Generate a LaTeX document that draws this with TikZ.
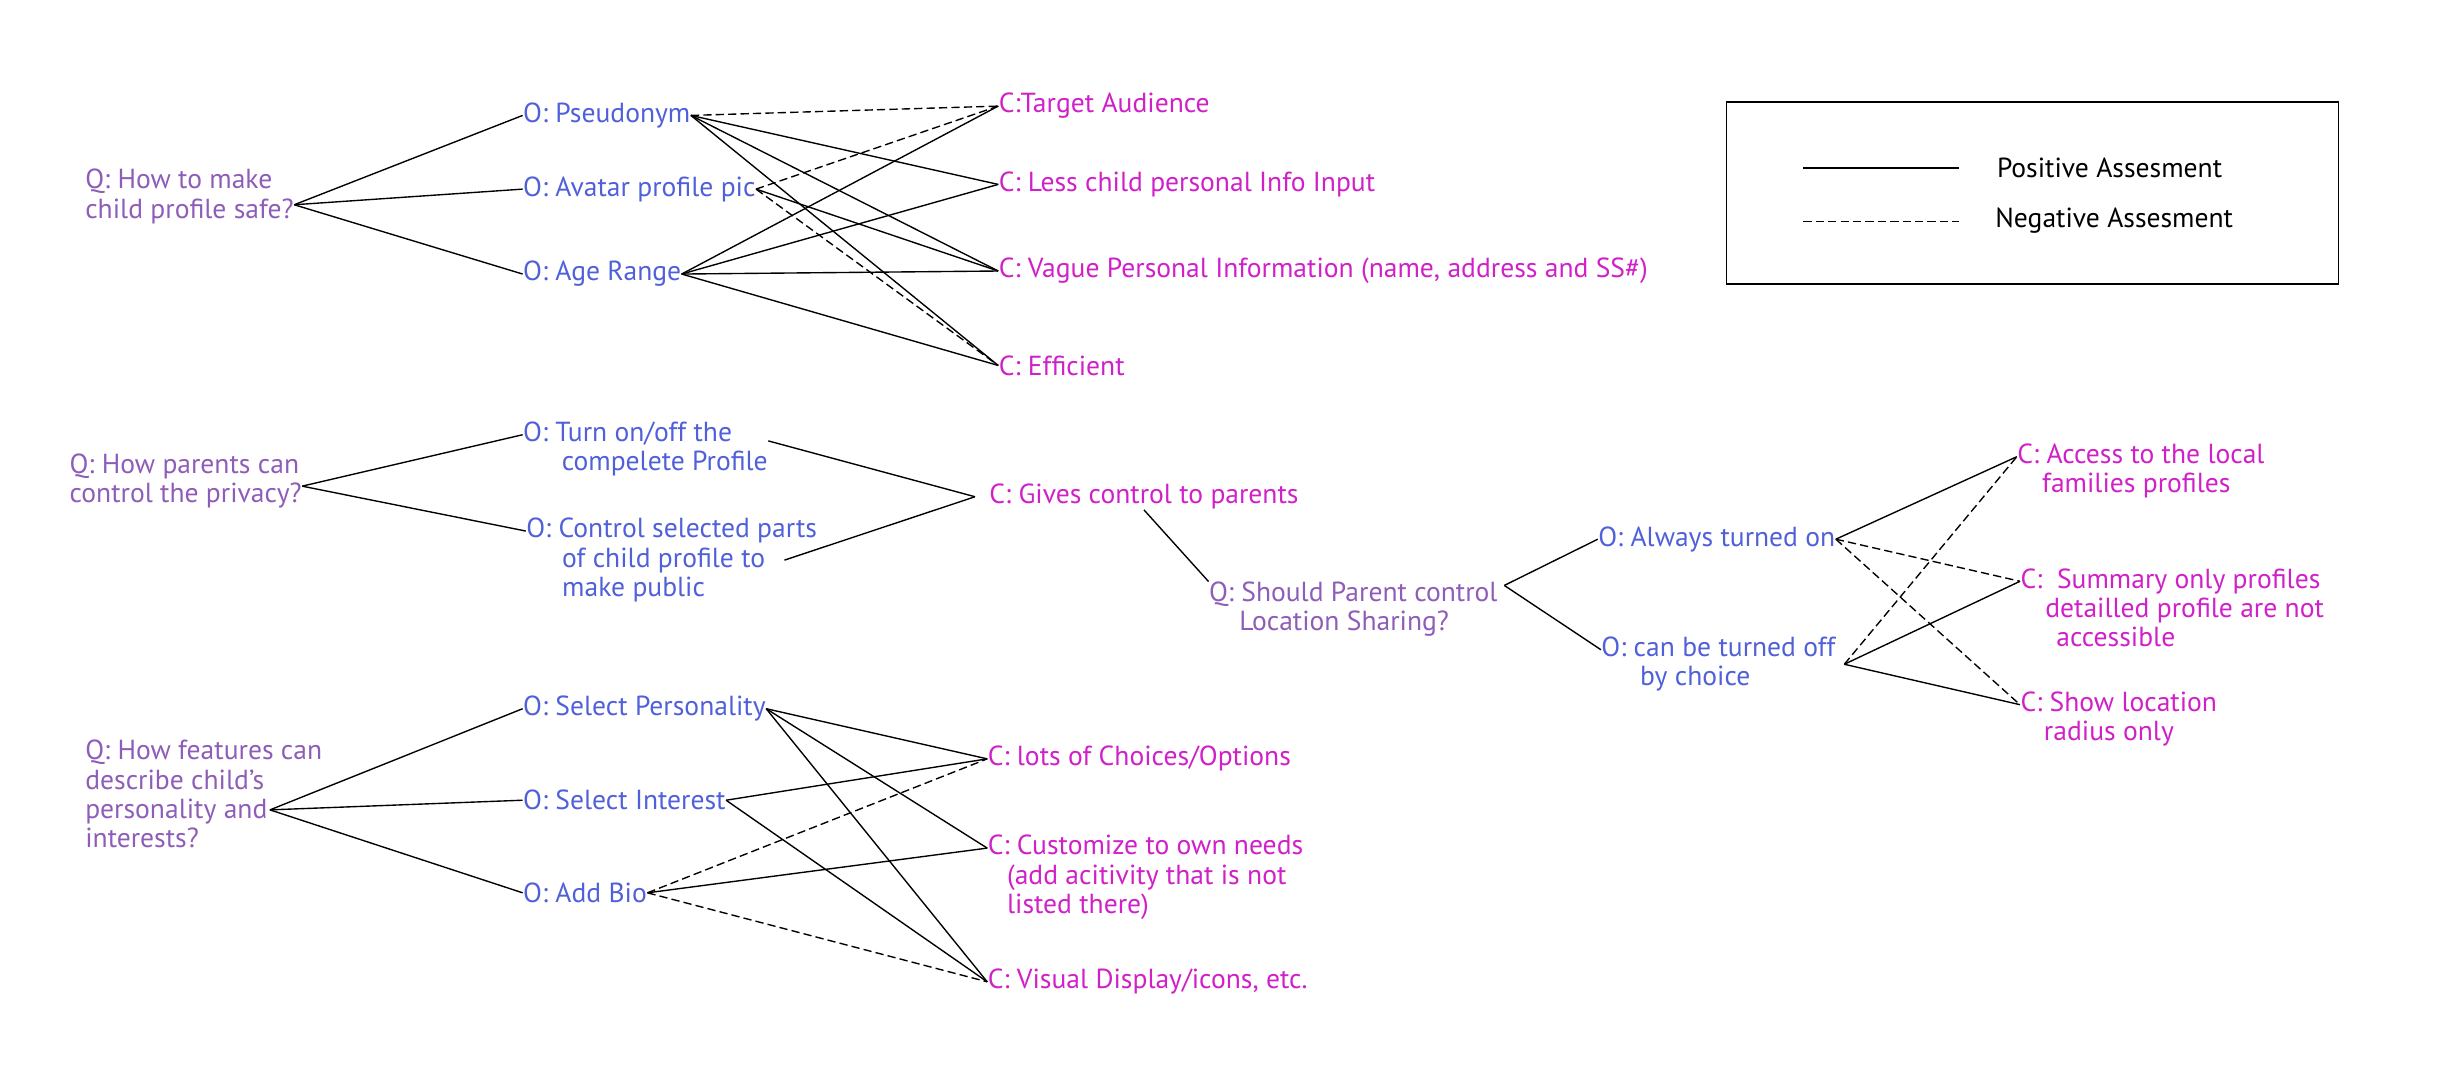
\documentclass[tikz,border=0pt]{standalone}
\usepackage{fontspec}
\setmainfont{PT Sans}

\definecolor{qcol}{HTML}{8E5DB8}
\definecolor{ocol}{HTML}{5060D8}
\definecolor{ccol}{HTML}{D020C8}

\tikzset{
    qtext/.style={anchor=base west, inner sep=0pt, align=left, text=qcol},
    otext/.style={anchor=base west, inner sep=0pt, align=left, text=ocol},
    ctext/.style={anchor=base west, inner sep=0pt, align=left, text=ccol},
    legtext/.style={anchor=base west, inner sep=0pt, text=black},
    posline/.style={draw=black, line width=0.5pt},
    negline/.style={draw=black, line width=0.5pt, dash pattern=on 3pt off 1.5pt}
}

\begin{document}
\begin{tikzpicture}[x=0.02cm, y=-0.02cm, font=\fontsize{10}{10.6}\selectfont]
\useasboundingbox (0,0) rectangle (1568,695);

% child profile
\node[qtext] (q1) at (54,139) {Q: How to make\\child profile safe?};
\node[otext] (pseudo) at (333,78) {O: Pseudonym};
\node[otext] (avatar) at (333,125) {O: Avatar profile pic};
\node[otext] (age) at (333,179) {O: Age Range};
\node[ctext] (target) at (636,72) {C:Target Audience};
\node[ctext] (less) at (636,122) {C: Less child personal Info Input};
\node[ctext] (vague) at (636,177) {C: Vague Personal Information (name, address and SS\#)};
\node[ctext] (effic) at (636,239) {C: Efficient};

\foreach \o in {pseudo,avatar,age}
    \draw[posline] ([yshift=-3pt]q1.east) -- (\o.west);
\draw[negline] (pseudo.east) -- (target.west);
\foreach \c in {less,vague,effic}
    \draw[posline] (pseudo.east) -- (\c.west);
\draw[negline] (avatar.east) -- (target.west);
\draw[posline] (avatar.east) -- (vague.west);
\draw[negline] (avatar.east) -- (effic.west);
\foreach \c in {target,less,vague,effic}
    \draw[posline] (age.east) -- (\c.west);

% privacy control
\node[qtext] (q2) at (44,320) {Q: How parents can\\control the privacy?};
\node[otext] (turn) at (333,300) {O: Turn on/off the\\\hspace*{14pt}compelete Profile};
\node[otext] (control) at (335,380) {O: Control selected parts\\\hspace*{13pt}of child profile to\\\hspace*{13pt}make public};
\node[ctext] (gives) at (630,321) {C: Gives control to parents};

\draw[posline] ([yshift=-2pt]q2.east) -- ([yshift=13.1pt]turn.base west);
\draw[posline] ([yshift=-2pt]q2.east) -- ([yshift=23.7pt]control.base west);
\draw[posline] ([yshift=3pt]turn.east) -- ([xshift=-5pt]gives.west);
\draw[posline] ([xshift=-12pt]control.east) -- ([xshift=-5pt]gives.west);

% location sharing
\node[qtext] (q3) at (770,402) {Q: Should Parent control\\\hspace*{11pt}Location Sharing?};
\node[otext] (always) at (1018,348) {O: Always turned on};
\node[otext] (canbe) at (1020,437) {O: can be turned off\\\hspace*{14pt}by choice};
\node[ctext] (access) at (1285,314) {C: Access to the local\\\hspace*{9pt}families profiles};
\node[ctext] (summary) at (1287,412) {C:\ \ Summary only profiles\\\hspace*{9pt}detailled profile are not\\\hspace*{13pt}accessible};
\node[ctext] (show) at (1287,472) {C: Show location\\\hspace*{8.5pt}radius only};

\draw[posline] (gives.south) -- (q3.north west);
\draw[posline] ([shift={(4,-29)}]q3.base east) -- (always.west);
\draw[posline] ([shift={(4,-29)}]q3.base east) -- ([yshift=13.1pt]canbe.base west);
\draw[posline] (always.east) -- ([yshift=13.1pt]access.base west);
\draw[negline] (always.east) -- ([yshift=23.7pt]summary.base west);
\draw[negline] (always.east) -- ([yshift=13.1pt]show.base west);
\draw[negline] ([xshift=3pt]canbe.east) -- ([yshift=13.1pt]access.base west);
\draw[posline] ([xshift=3pt]canbe.east) -- ([yshift=23.7pt]summary.base west);
\draw[posline] ([xshift=3pt]canbe.east) -- ([yshift=13.1pt]show.base west);

% personality and interests
\node[qtext] (q4) at (54,540) {Q: How features can\\describe child’s\\personality and\\interests?};
\node[otext] (person) at (333,456) {O: Select Personality};
\node[otext] (interest) at (333,516) {O: Select Interest};
\node[otext] (bio) at (333,575) {O: Add Bio};
\node[ctext] (lots) at (629,488) {C: lots of Choices/Options};
\node[ctext] (custom) at (629,582) {C: Customize to own needs\\\hspace*{7pt}(add acitivity that is not\\\hspace*{7pt}listed there)};
\node[ctext] (visual) at (629,630) {C: Visual Display/icons, etc.};
\coordinate (q4out) at ([shift={(118,-24)}]q4.base west);

\foreach \o in {person,interest,bio}
    \draw[posline] (q4out) -- (\o.west);
\draw[posline] (person.east) -- (lots.west);
\draw[posline] (person.east) -- ([yshift=23.7pt]custom.base west);
\draw[posline] (person.east) -- (visual.west);
\draw[posline] (interest.east) -- (lots.west);
\draw[posline] (interest.east) -- (visual.west);
\draw[negline] (bio.east) -- (lots.west);
\draw[posline] (bio.east) -- ([yshift=23.7pt]custom.base west);
\draw[negline] (bio.east) -- (visual.west);

% legend
\node[draw, line width=0.6pt, inner sep=0pt, minimum width=7.8cm, minimum height=2.32cm] (legend) at (1295,123) {};
\coordinate (posa) at (1149,107);
\coordinate (posb) at (1248,107);
\coordinate (nega) at (1149,141);
\coordinate (negb) at (1248,141);
\draw[posline] (posa) -- (posb);
\draw[negline] (nega) -- (negb);
\node[legtext] (postext) at (1272,113) {Positive Assesment};
\node[legtext] (negtext) at (1271,145) {Negative Assesment};
\end{tikzpicture}
\end{document}
